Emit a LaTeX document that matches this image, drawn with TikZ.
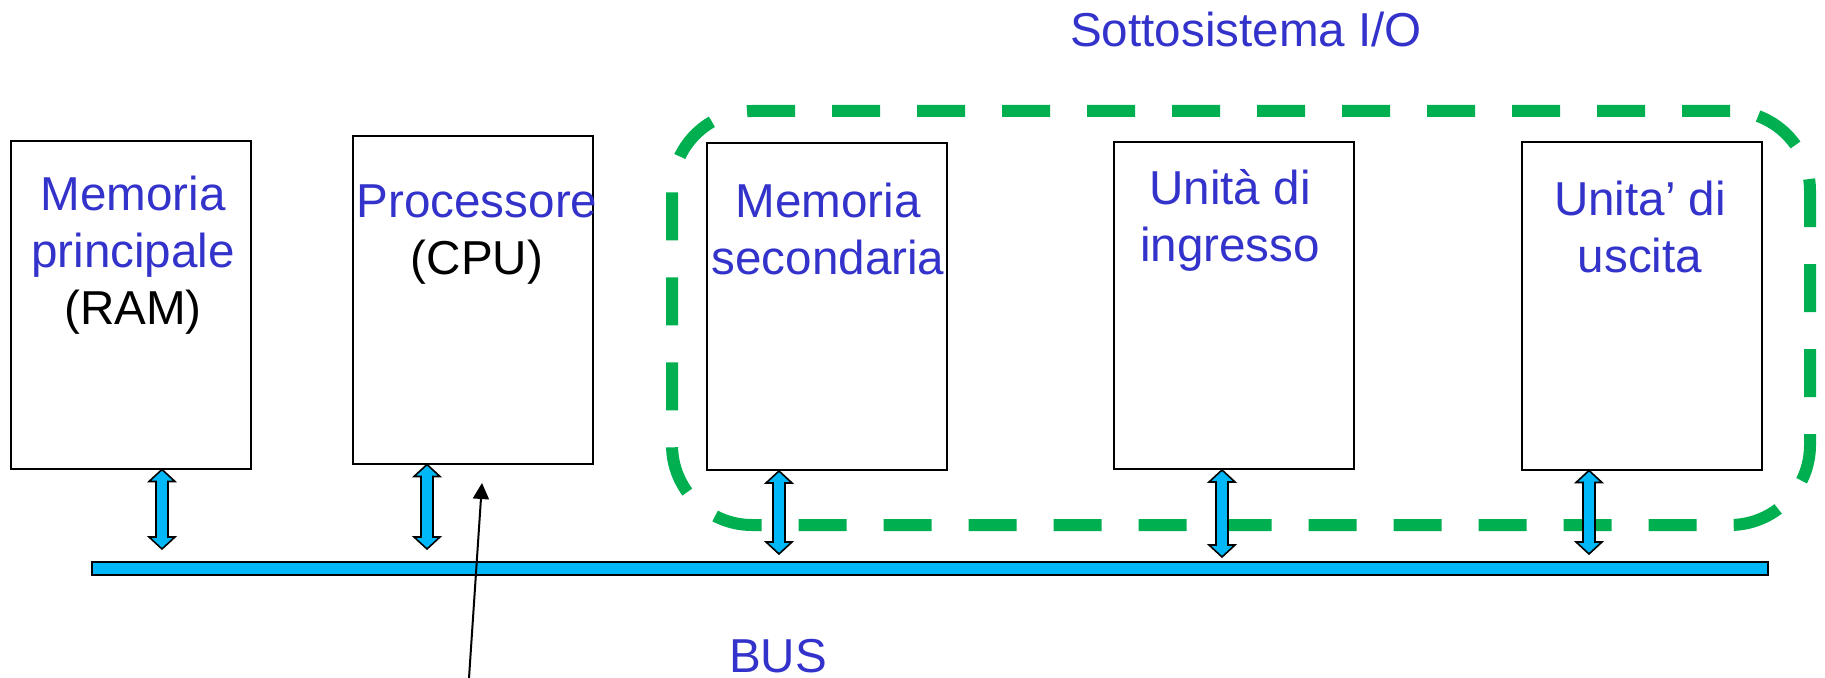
\documentclass[tikz,border=0pt]{standalone}
\usepackage{fontspec}
\setmainfont{Liberation Sans}
\usetikzlibrary{arrows.meta,calc}
\definecolor{txtblue}{RGB}{51,51,204}
\definecolor{iogreen}{RGB}{0,176,80}
\definecolor{buscyan}{RGB}{0,184,248}
\begin{document}
\begin{tikzpicture}[x=0.5pt,y=-0.5pt,
  unitbox/.style={draw=black,line width=1pt,fill=white,inner sep=0pt,minimum width=120pt,minimum height=163.5pt},
  lbl/.style={align=center,anchor=base,inner sep=0pt,font=\fontsize{23.8}{28.5}\selectfont,text=txtblue},
  iobox/.style={draw=iogreen,line width=6pt,dash pattern=on 24pt off 18.5pt,rounded corners=40pt,inner sep=0pt},
  busbar/.style={draw=black,line width=1pt,fill=buscyan,inner sep=0pt},
  busarrow/.style={draw=black,line width=0.8pt,fill=buscyan,line join=miter,
    to path={let \p1=(\tikztostart),\p2=(\tikztotarget) in
      (\x1,\y1) -- (\x1+6.5pt,\y1-6pt) -- (\x1+3pt,\y1-6pt) -- (\x1+3pt,\y2+6pt) -- (\x1+6.5pt,\y2+6pt) -- (\x1,\y2) -- (\x1-6.5pt,\y2+6pt) -- (\x1-3pt,\y2+6pt) -- (\x1-3pt,\y1-6pt) -- (\x1-6.5pt,\y1-6pt) -- cycle}},
  pointer/.style={draw=black,line width=1pt,-{Triangle[length=8pt,width=8pt]}}
]
\useasboundingbox (0,0) rectangle (1825,678);

% I/O subsystem frame
\node[iobox,minimum width=569pt,minimum height=207pt] (io) at (1241,318) {};

% units
\node[unitbox] (ram) at (131,305) {};
\node[unitbox] (cpu) at (473,300) {};
\node[unitbox] (mem2) at (827,306.5) {};
\node[unitbox] (inp) at (1234,305.5) {};
\node[unitbox] (outp) at (1641.5,306) {};

% labels (anchor = baseline of the last line)
\node[lbl] (ramtxt) at (133,325) {Memoria\\principale\\\textcolor{black}{(RAM)}};
\node[lbl] (cputxt) at (477,275) {Processore\\\textcolor{black}{(CPU)}};
\node[lbl] (m2txt) at (828,275) {Memoria\\secondaria};
\node[lbl] (intxt) at (1230,262) {Unità di\\ingresso};
\node[lbl] (outtxt) at (1640,273) {Unita’ di\\uscita};
\node[lbl] (iotitle) at (1246,46.5) {Sottosistema I/O};
\node[lbl] (bustxt) at (778,672) {BUS};

% bus
\node[busbar,minimum width=838pt,minimum height=6.5pt] (bus) at (930,568.5) {};

% taps on the bus
\coordinate (t1) at (162,549);
\coordinate (t2) at (427,549);
\coordinate (t3) at (779,554);
\coordinate (t4) at (1222,557);
\coordinate (t5) at (1589,554);

\draw[busarrow] (t1 |- ram.south) to (t1);
\draw[busarrow] (t2 |- cpu.south) to (t2);
\draw[busarrow] (t3 |- mem2.south) to (t3);
\draw[busarrow] (t4 |- inp.south) to (t4);
\draw[busarrow] (t5 |- outp.south) to (t5);

% pointer
\coordinate (ptail) at (469,678);
\coordinate (phead) at (482,483);
\draw[pointer] (ptail) -- (phead);
\end{tikzpicture}
\end{document}
